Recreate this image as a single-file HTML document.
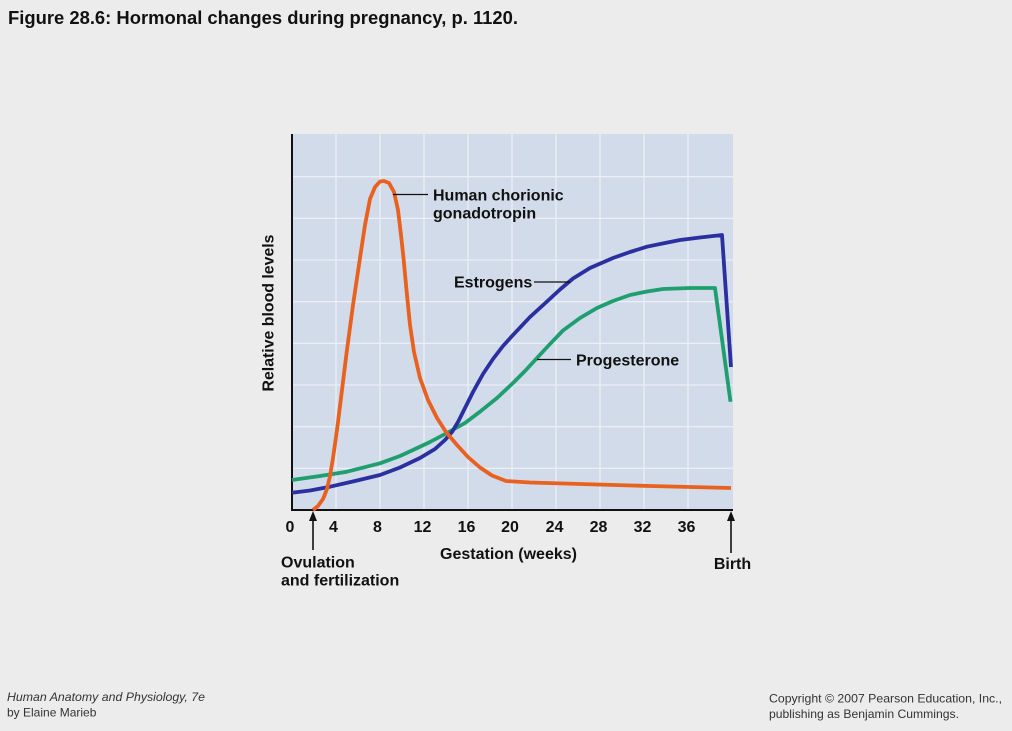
<!DOCTYPE html>
<html><head><meta charset="utf-8"><style>
html,body{margin:0;padding:0;background:#ececec;}
svg{display:block;}
</style></head><body>
<svg width="1012" height="731" viewBox="0 0 1012 731" xmlns="http://www.w3.org/2000/svg">
<rect x="0" y="0" width="1012" height="731" fill="#ececec"/>
<text x="8" y="24" font-family="Liberation Sans, sans-serif" font-weight="bold" font-size="18" fill="#111" textLength="510" lengthAdjust="spacingAndGlyphs">Figure 28.6:  Hormonal changes during pregnancy, p. 1120.</text>
<!-- plot area -->
<rect x="292" y="134" width="441" height="376" fill="#d2dbea"/>
<g stroke="#eaeef6" stroke-width="1.3">
<line x1="336" y1="134" x2="336" y2="510"/><line x1="380" y1="134" x2="380" y2="510"/>
<line x1="424" y1="134" x2="424" y2="510"/><line x1="468" y1="134" x2="468" y2="510"/>
<line x1="512" y1="134" x2="512" y2="510"/><line x1="556" y1="134" x2="556" y2="510"/>
<line x1="600" y1="134" x2="600" y2="510"/><line x1="644" y1="134" x2="644" y2="510"/>
<line x1="688" y1="134" x2="688" y2="510"/>
<line x1="292" y1="176.7" x2="733" y2="176.7"/><line x1="292" y1="218.3" x2="733" y2="218.3"/>
<line x1="292" y1="260" x2="733" y2="260"/><line x1="292" y1="301.7" x2="733" y2="301.7"/>
<line x1="292" y1="343.3" x2="733" y2="343.3"/><line x1="292" y1="385" x2="733" y2="385"/>
<line x1="292" y1="426.7" x2="733" y2="426.7"/><line x1="292" y1="468.3" x2="733" y2="468.3"/>
</g>
<!-- axes -->
<line x1="292" y1="134" x2="292" y2="511" stroke="#111" stroke-width="2"/>
<line x1="291" y1="510" x2="733" y2="510" stroke="#111" stroke-width="2"/>
<!-- progesterone -->
<polyline points="292,480 320,476 347,471.7 380,463.3 400,456 413,450 430,442 447,433 465,423 480,411.7 497,398 513,383 525,371 537,358 550,344 563,330.5 580,318 597,308 613,301 630,295 647,291.5 663,289 690,288 715,288 730.5,401.7" fill="none" stroke="#1f9e70" stroke-width="3.8" stroke-linejoin="round"/>
<!-- estrogens -->
<polyline points="292,492.7 310,490.5 330,486.7 355,481 380,475 400,467.5 420,458 435,449 445,440 452,432 458,422 465,408 473,392 483,374 493,359 503,346 513,335 530,317 547,301.5 560,289.5 573,278.5 590,268 613,258 630,252 647,246.7 665,243 680,240 700,237.5 722,235 731,367" fill="none" stroke="#2b2f9f" stroke-width="3.8" stroke-linejoin="round"/>
<!-- hCG -->
<polyline points="313,510 318,506 323,499 327,489 330,476 333,458 337,430 340.5,402 346.7,352 353,305 360,258 365,225 370,199 375,187 380,181.5 384,181 389,183 394,192 398,210 401,235 403.5,258 406.5,290 410,325 414,352 420,378 428,400 437,418 446,432 457,445 468,457 480,467.5 492,475.5 506,481 530,482.5 580,484 650,486 731,488" fill="none" stroke="#e8611f" stroke-width="3.8" stroke-linejoin="round"/>
<!-- leaders -->
<g stroke="#111" stroke-width="1.3">
<line x1="393" y1="194.5" x2="428" y2="194.5"/>
<line x1="534" y1="282" x2="570" y2="282"/>
<line x1="537" y1="359.5" x2="571" y2="359.5"/>
</g>
<g font-family="Liberation Sans, sans-serif" font-weight="bold" font-size="16" fill="#111">
<text x="433" y="200.5">Human chorionic</text>
<text x="433" y="218.5">gonadotropin</text>
<text x="454" y="287.5">Estrogens</text>
<text x="576" y="365.5">Progesterone</text>
<text transform="translate(273.5,313) rotate(-90)" text-anchor="middle" textLength="157" lengthAdjust="spacingAndGlyphs">Relative blood levels</text>
<g text-anchor="middle">
<text x="290" y="532">0</text><text x="333.5" y="532">4</text><text x="377.5" y="532">8</text>
<text x="422.5" y="532">12</text><text x="466.5" y="532">16</text><text x="510" y="532">20</text>
<text x="554.5" y="532">24</text><text x="598.5" y="532">28</text><text x="642.5" y="532">32</text>
<text x="686.5" y="532">36</text>
<text x="508.5" y="559">Gestation (weeks)</text>
<text x="732.5" y="569">Birth</text>
</g>
<text x="281" y="567.5">Ovulation</text>
<text x="281" y="585.5">and fertilization</text>
</g>
<!-- arrows -->
<line x1="313" y1="518" x2="313" y2="550" stroke="#111" stroke-width="1.6"/>
<polygon points="313,511 309,521 317,521" fill="#111"/>
<line x1="731" y1="518" x2="731" y2="553" stroke="#111" stroke-width="1.6"/>
<polygon points="731,511 727,521 735,521" fill="#111"/>
<g font-family="Liberation Sans, sans-serif" font-size="12" fill="#333">
<text x="7" y="701" font-style="italic" textLength="198" lengthAdjust="spacingAndGlyphs">Human Anatomy and Physiology, 7e</text>
<text x="7" y="716.5">by Elaine Marieb</text>
<text x="769" y="702.5" textLength="233" lengthAdjust="spacingAndGlyphs">Copyright © 2007 Pearson Education, Inc.,</text>
<text x="769" y="718" textLength="190" lengthAdjust="spacingAndGlyphs">publishing as Benjamin Cummings.</text>
</g>
</svg>
</body></html>
